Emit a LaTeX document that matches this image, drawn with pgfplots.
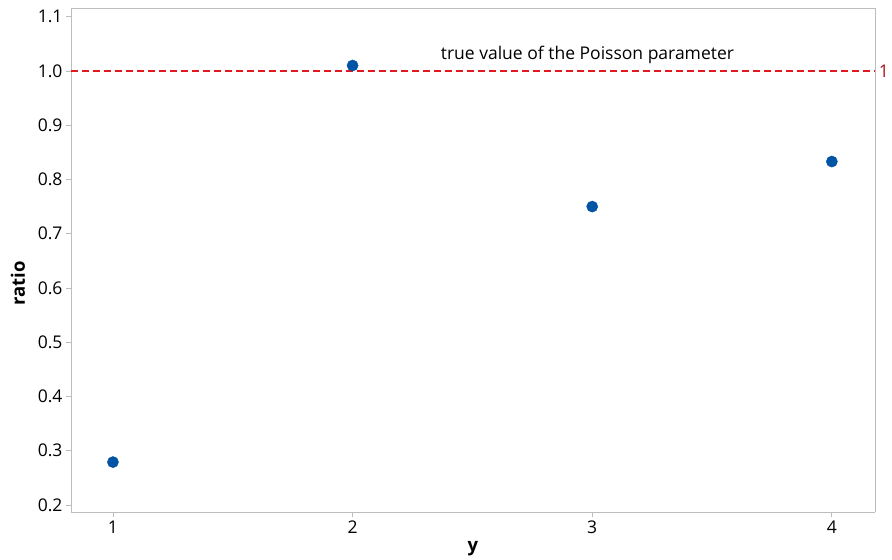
\documentclass[border=0pt]{standalone}
\usepackage{pgfplots}
\pgfplotsset{compat=1.18}
\usepackage{fontspec}
\setmainfont{Open Sans}
\definecolor{axgray}{HTML}{BDBDBD}
\definecolor{ptblue}{HTML}{0054A6}
\definecolor{refred}{HTML}{E0191F}
\definecolor{labred}{HTML}{A8141C}
\begin{document}
\begin{tikzpicture}
\begin{axis}[
    scale only axis,
    width=804pt, height=504pt,
    xmin=0.825, xmax=4.18,
    ymin=0.187, ymax=1.116,
    xtick={1,2,3,4},
    ytick={0.2,0.3,...,1.1},
    yticklabel style={/pgf/number format/.cd, fixed, fixed zerofill, precision=1},
    /pgf/number format/assume math mode=true,
    tick label style={font=\fontsize{17.5}{20}\selectfont, black},
    axis x line*=bottom, axis y line*=left,
    axis line style={axgray},
    tick style={axgray, line width=0.8pt},
    tick align=outside,
    major tick length=5pt,
    xlabel={y}, ylabel={ratio},
    label style={font=\fontsize{18.5}{21}\selectfont\bfseries},
    xlabel style={at={(ticklabel cs:0.5)}, anchor=north, yshift=-1pt},
    ylabel style={at={(ticklabel cs:0.454)}, anchor=south, yshift=6pt},
    clip=false,
]
\draw[axgray] (rel axis cs:0,1) -- (rel axis cs:1,1) -- (rel axis cs:1,0);
\addplot[refred, dashed, dash pattern=on 7pt off 4pt, line width=1.3pt, forget plot]
    coordinates {(0.825,1.0) (4.18,1.0)};
\addplot[only marks, mark=*, mark size=5.6pt, ptblue, mark options={fill=ptblue, draw=ptblue}]
    coordinates {(1,0.279) (2,1.010) (3,0.750) (4,0.833)};
\node[anchor=base, font=\fontsize{17.5}{20}\selectfont] at (axis cs:2.98,1.021) {true value of the Poisson parameter};
\node[anchor=west, text=labred, font=\fontsize{17.5}{20}\selectfont, inner sep=0pt] at (axis cs:4.195,1.0) {1};
\end{axis}
\path (current axis.south west) ++(-71pt,-45pt) coordinate (bl);
\path (current axis.north east) ++(17pt,8pt) coordinate (tr);
\path (bl) rectangle (tr);
\end{tikzpicture}
\end{document}
